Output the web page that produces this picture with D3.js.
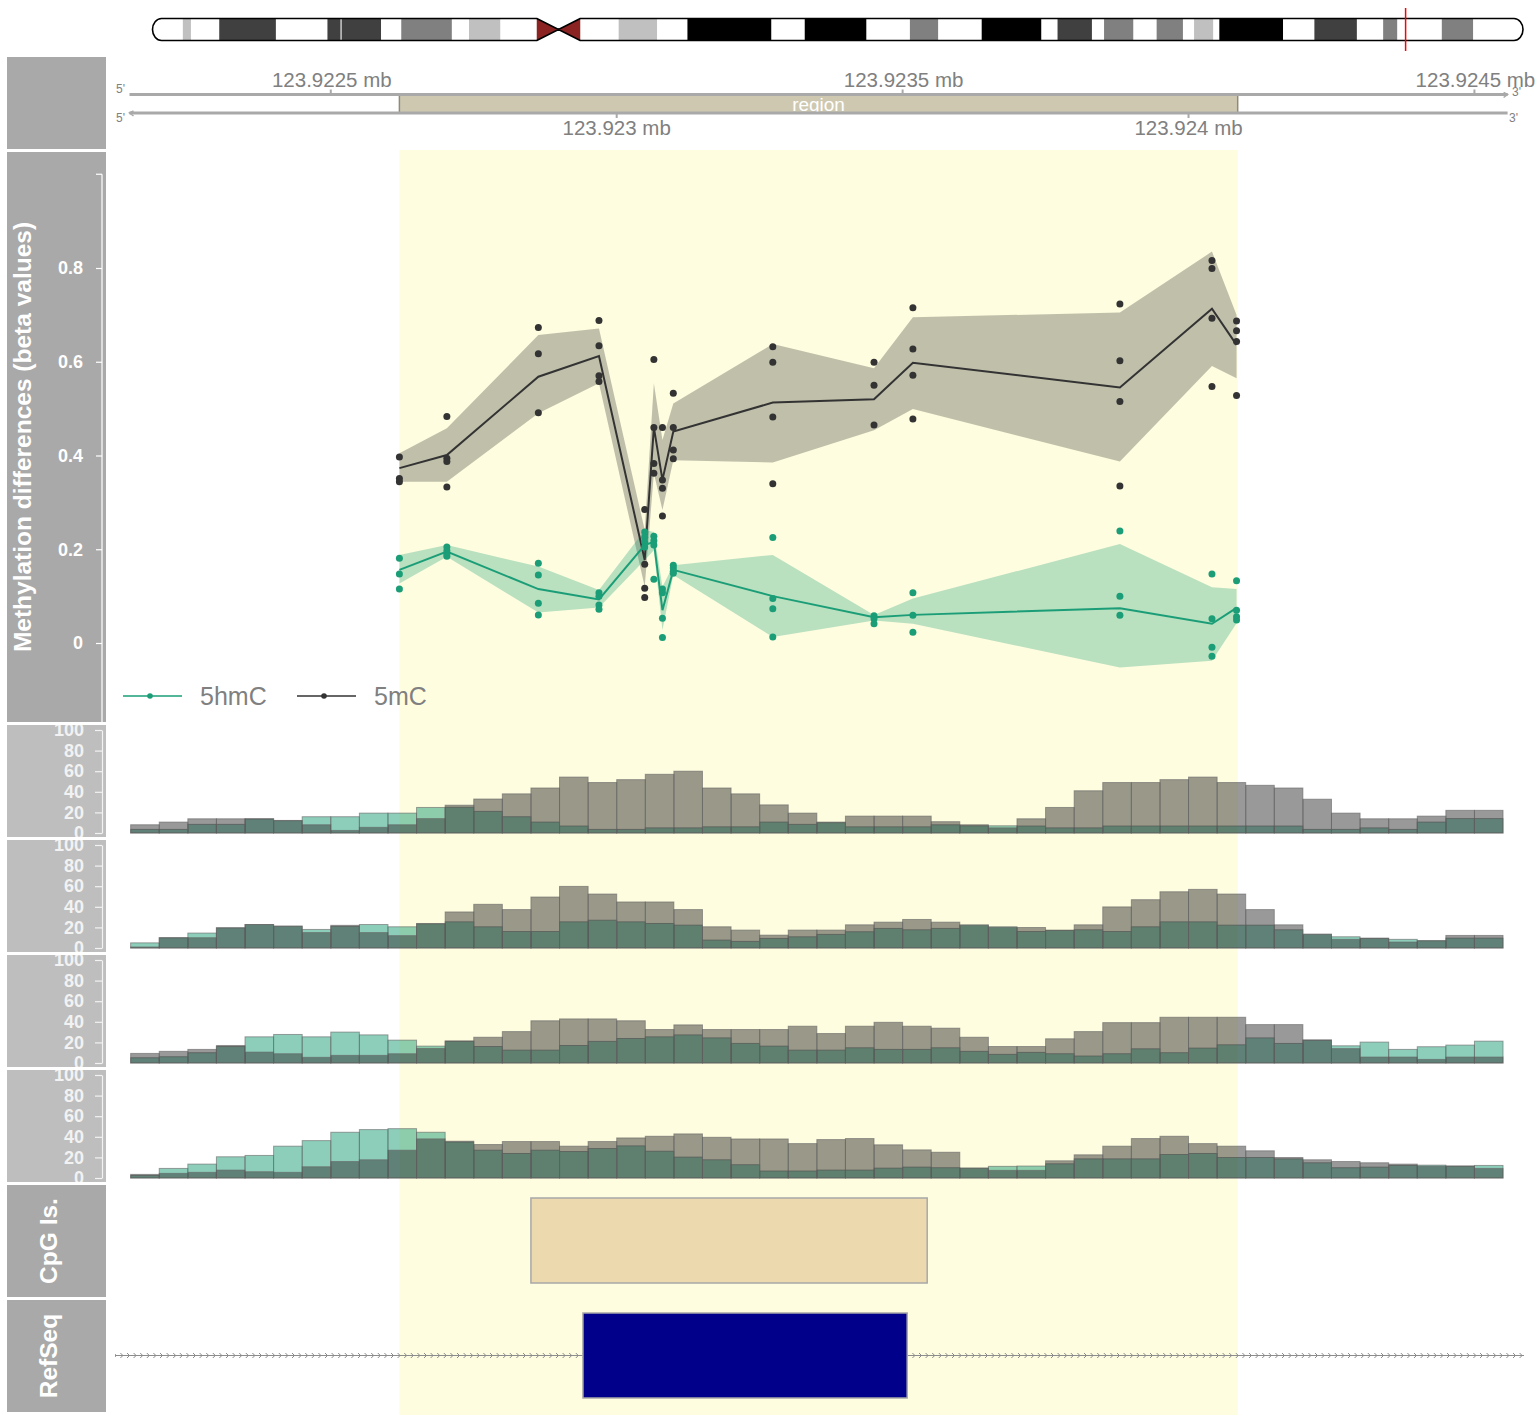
<!DOCTYPE html>
<html>
<head>
<meta charset="utf-8">
<script src="https://cdn.jsdelivr.net/npm/d3@7"></script>
<style>
  body { margin: 0; background: #ffffff; }
  svg { display: block; font-family: "Liberation Sans", Arial, Helvetica, sans-serif; }
</style>
</head>
<body>
<svg id="chart" width="1536" height="1419"></svg>
<script>
// ---------------- chromosome 10 ideogram (Mb) ----------------
const chromLength = 135.53;
const markerMb = 123.92;
const bandStart = [0, 3.0, 3.8, 6.6, 12.2, 17.3, 18.6, 18.7, 22.6, 24.6, 29.6, 31.3, 34.4, 38.0, 40.2, 42.3, 46.1, 49.9, 52.9, 61.2, 64.5, 70.6, 74.9, 77.7, 82.0, 87.9, 89.5, 92.9, 94.1, 97.0, 99.3, 101.9, 103.0, 104.9, 105.5, 111.8, 114.9, 119.1, 121.7, 123.1, 127.5, 130.6];
const bandEnd   = [3.0, 3.8, 6.6, 12.2, 17.3, 18.6, 18.7, 22.6, 24.6, 29.6, 31.3, 34.4, 38.0, 40.2, 42.3, 46.1, 49.9, 52.9, 61.2, 64.5, 70.6, 74.9, 77.7, 82.0, 87.9, 89.5, 92.9, 94.1, 97.0, 99.3, 101.9, 103.0, 104.9, 105.5, 111.8, 114.9, 119.1, 121.7, 123.1, 127.5, 130.6, 135.53];
const bandStain = ["gneg","gpos25","gneg","gpos75","gneg","gpos75","gneg","gpos75","gneg","gpos50","gneg","gpos25","gneg","acen","acen","gneg","gpos25","gneg","gpos100","gneg","gpos100","gneg","gpos50","gneg","gpos100","gneg","gpos75","gneg","gpos50","gneg","gpos50","gneg","gpos25","gneg","gpos100","gneg","gpos75","gneg","gpos50","gneg","gpos50","gneg"];
const stainColor = { gneg: "#ffffff", gpos25: "#c0c0c0", gpos50: "#808080", gpos75: "#404040", gpos100: "#000000", acen: "#8b2323" };

// ---------------- genomic window ----------------
const windowStart = 123922148, windowEnd = 123924558;
const ticksTop = [123922500, 123923500, 123924500];
const ticksBottom = [123923000, 123924000];
const regionStart = 123922620, regionEnd = 123924086;

// ---------------- methylation differences ----------------
const cpgPos = [123922620, 123922703, 123922863, 123922969, 123923049, 123923065, 123923080, 123923099, 123923273, 123923450, 123923518, 123923880, 123924041, 123924084];

const mCPoints = [
  [0.397, 0.351, 0.344], [0.483, 0.394, 0.387, 0.333], [0.673, 0.617, 0.491], [0.688, 0.634, 0.570, 0.558],
  [0.285, 0.168, 0.117, 0.097], [0.605, 0.460, 0.383, 0.362], [0.460, 0.348, 0.330, 0.271], [0.533, 0.460, 0.412, 0.393],
  [0.632, 0.599, 0.482, 0.340], [0.599, 0.550, 0.465], [0.715, 0.627, 0.571, 0.478], [0.723, 0.602, 0.515, 0.335],
  [0.816, 0.799, 0.693, 0.547], [0.687, 0.666, 0.643, 0.528]
];
const mCMean  = [0.373, 0.401, 0.568, 0.612, 0.177, 0.460, 0.348, 0.451, 0.513, 0.520, 0.598, 0.545, 0.713, 0.636];
const mCLower = [0.344, 0.344, 0.490, 0.554, 0.120, 0.362, 0.284, 0.390, 0.385, 0.454, 0.499, 0.387, 0.591, 0.565];
const mCUpper = [0.405, 0.458, 0.657, 0.671, 0.241, 0.554, 0.433, 0.511, 0.638, 0.586, 0.695, 0.705, 0.835, 0.700];

const hmCPoints = [
  [0.181, 0.147, 0.115], [0.205, 0.197, 0.190, 0.185], [0.170, 0.145, 0.085, 0.060], [0.107, 0.100, 0.081, 0.072],
  [0.237, 0.225, 0.215, 0.205], [0.228, 0.218, 0.209, 0.136], [0.115, 0.107, 0.053, 0.012], [0.166, 0.160, 0.153, 0.149],
  [0.225, 0.095, 0.073, 0.013], [0.058, 0.052, 0.041], [0.107, 0.059, 0.023], [0.239, 0.100, 0.059],
  [0.147, 0.052, -0.009, -0.028], [0.133, 0.070, 0.056, 0.049]
];
const hmCMean  = [0.156, 0.195, 0.115, 0.093, 0.209, 0.216, 0.070, 0.156, 0.100, 0.055, 0.060, 0.074, 0.041, 0.075];
const hmCLower = [0.127, 0.184, 0.065, 0.076, 0.177, 0.198, 0.028, 0.145, 0.013, 0.048, 0.041, -0.052, -0.038, 0.042];
const hmCUpper = [0.188, 0.209, 0.163, 0.113, 0.241, 0.237, 0.120, 0.166, 0.188, 0.060, 0.095, 0.211, 0.119, 0.115];

const methTicks = [0, 0.2, 0.4, 0.6, 0.8];

// ---------------- binned coverage tracks (50 bp bins) ----------------
const binStart = 123922150, binWidth = 50;
const histTicks = [0, 20, 40, 60, 80, 100];

const track1Gray  = [8, 10.6, 13.8, 13.8, 14, 12.2, 8, 2.5, 5.5, 8, 14, 27, 33, 38, 43.7, 54.3, 49, 51.8, 57, 60, 43.7, 38, 27.3, 19.3, 10.6, 16.4, 16.4, 16.4, 11, 8, 5, 13.8, 24.8, 41, 49, 49, 51.8, 54.3, 49, 46.3, 43.7, 32.8, 19.3, 13.8, 13.8, 16.4, 22, 22];
const track1Green = [3.5, 3.5, 8.4, 8.4, 13.5, 12, 15.8, 15.8, 19.3, 19.3, 24.8, 25, 21, 15.8, 10.6, 6.8, 3.5, 3.5, 5, 5, 6, 6, 10.6, 8.4, 10, 6, 6, 6, 8, 7, 7, 6.8, 5, 5, 6.8, 6.8, 6.8, 6.8, 6.8, 6.8, 6.8, 3.5, 3.5, 5, 3.5, 10.6, 14, 14];

const track2Gray  = [1, 10, 10, 19.6, 22.8, 21.2, 15, 22, 15, 12, 23.8, 35, 42.4, 37.3, 49.5, 59.8, 52.4, 44.7, 44.7, 37.3, 20.6, 17.4, 12.5, 17.4, 17.4, 22.5, 25.1, 27.7, 25.1, 22, 20, 19.9, 17.4, 22.5, 39.9, 46.9, 54.6, 56.9, 52.4, 37.3, 22.5, 13.2, 8.4, 9.6, 5.8, 7, 12.2, 12.2];
const track2Green = [5, 10, 14.5, 19.6, 22.8, 21.2, 18, 21, 22.8, 20.6, 23.5, 25.4, 20.6, 16, 16, 25.4, 27, 25.4, 23.8, 22.2, 7.7, 6.4, 9.3, 10.9, 13.2, 15.8, 19, 17.7, 19, 22.5, 20.6, 16, 17, 17.7, 16, 20.6, 25.4, 25.4, 22.2, 22.2, 17.7, 13.5, 10.9, 9.3, 8.4, 7.2, 9.6, 9.6];

const track3Gray  = [9.3, 11.3, 13.2, 17, 10.6, 9, 5.5, 7.4, 7.4, 9, 14.1, 21.5, 25, 30.5, 41, 42.8, 42.8, 41, 32.5, 37, 32.5, 32.5, 32.5, 35.7, 28.6, 35.7, 39.5, 35.7, 33.8, 25, 16, 16, 23.5, 30.5, 39.2, 39.2, 44.4, 44.4, 44.4, 37.3, 37.3, 22.5, 14, 5.8, 5.8, 3.5, 5.8, 5.8];
const track3Green = [5.1, 6.1, 10, 16, 25.4, 27.7, 25.4, 30, 27.3, 22.2, 16.4, 21, 16, 12.5, 12.5, 17, 21, 23.8, 25.4, 27.3, 24.4, 19, 16.4, 12.5, 12.5, 14.8, 13.2, 13.2, 14.8, 11.3, 8.4, 10.3, 9, 6.8, 9, 13.8, 10, 14.5, 17.7, 24.4, 19, 22, 16.7, 20.3, 13.2, 15.8, 17.4, 21.2];

const track4Gray  = [3.5, 4.5, 5.5, 7.7, 6.1, 5.5, 10.9, 16, 17.7, 27, 38, 35.7, 32.5, 35.4, 35.4, 30.9, 35.4, 38.9, 40.5, 42.8, 39.5, 37.9, 37.9, 33.4, 37.3, 38.3, 32.2, 27.3, 25, 9.6, 7.4, 7.4, 16.7, 22.5, 30.9, 38.3, 40.5, 33.4, 30.9, 26.4, 19.9, 17.7, 16, 14.8, 13.5, 11.5, 11.6, 9.3];
const track4Green = [2.5, 9.3, 13.5, 20.6, 21.9, 30.9, 36.3, 44.4, 47, 47.9, 44.4, 35, 27, 23.8, 27, 25.7, 28.6, 31.2, 26, 20.3, 17.7, 12.9, 6.8, 6.8, 7.7, 7.7, 9.6, 10.6, 10, 9.6, 11.3, 11.6, 13.8, 18.6, 18.6, 18.6, 22.8, 23.8, 19.9, 19.9, 18.6, 14.8, 10, 10.6, 12.2, 12.5, 11.6, 12.2];

// ---------------- annotation ----------------
const cpgIsland = [123922850, 123923543];
const refseqExon = [123922941, 123923508];
const refseqTranscript = [123921800, 123925200];

// ---------------- layout ----------------
const svg = d3.select("#chart");
const font = "'Liberation Sans', Arial, Helvetica, sans-serif";
const panelLeft = 7, panelWidth = 99;
const darkPanel = "#a9a9a9", lightPanel = "#bebebe";
const col5mC = "#333333", col5hmC = "#1b9e77";

const x = d3.scaleLinear().domain([windowStart, windowEnd]).range([129.5, 1507.6]);

const tracks = {
  axis:  { top: 57,   h: 92 },
  meth:  { top: 152,  h: 570 },
  h1:    { top: 725,  h: 112 },
  h2:    { top: 840,  h: 112 },
  h3:    { top: 955,  h: 112 },
  h4:    { top: 1070, h: 112 },
  cpg:   { top: 1185, h: 112 },
  ref:   { top: 1300, h: 112 }
};

const defs = svg.append("defs");

// title panels
const panelFill = { axis: darkPanel, meth: darkPanel, h1: lightPanel, h2: lightPanel, h3: lightPanel, h4: lightPanel, cpg: darkPanel, ref: darkPanel };
Object.entries(tracks).forEach(([k, t]) => {
  svg.append("rect").attr("x", panelLeft).attr("y", t.top).attr("width", panelWidth).attr("height", t.h).attr("fill", panelFill[k]);
  defs.append("clipPath").attr("id", "clip-" + k)
    .append("rect").attr("x", panelLeft).attr("y", t.top).attr("width", panelWidth).attr("height", t.h);
});

// highlighted region
svg.append("rect")
  .attr("x", x(regionStart)).attr("y", 150)
  .attr("width", x(regionEnd) - x(regionStart)).attr("height", 1265)
  .attr("fill", "#fefddf");

// ---------------- ideogram ----------------
const ix = d3.scaleLinear().domain([0, chromLength]).range([152.5, 1523]);
const iy0 = 18.5, iy1 = 40.5, iym = (iy0 + iy1) / 2, rEnd = 9;
const cenL = ix(bandStart[bandStain.indexOf("acen")]);
const cenR = ix(bandEnd[bandStain.lastIndexOf("acen")]);
const cenM = (cenL + cenR) / 2;
const x0 = ix(0), x1 = ix(chromLength);
const hh = (iy1 - iy0) / 2;
const pArm = `M${cenL},${iy0} L${x0 + rEnd},${iy0} A${rEnd},${hh} 0 0 0 ${x0 + rEnd},${iy1} L${cenL},${iy1} Z`;
const qArm = `M${cenR},${iy0} L${x1 - rEnd},${iy0} A${rEnd},${hh} 0 0 1 ${x1 - rEnd},${iy1} L${cenR},${iy1} Z`;
const clipIdeo = defs.append("clipPath").attr("id", "clip-ideo");
clipIdeo.append("path").attr("d", pArm);
clipIdeo.append("path").attr("d", qArm);

const ideo = svg.append("g");
const bandIdx = d3.range(bandStart.length).filter(i => bandStain[i] !== "acen");
ideo.append("g").attr("clip-path", "url(#clip-ideo)")
  .selectAll("rect").data(bandIdx).join("rect")
  .attr("x", i => ix(bandStart[i])).attr("y", iy0)
  .attr("width", i => ix(bandEnd[i]) - ix(bandStart[i]) + 0.3)
  .attr("height", iy1 - iy0)
  .attr("fill", i => stainColor[bandStain[i]]);
// centromere
ideo.append("path").attr("d", `M${cenL},${iy0} L${cenM},${iym} L${cenL},${iy1} Z`).attr("fill", stainColor.acen);
ideo.append("path").attr("d", `M${cenR},${iy0} L${cenM},${iym} L${cenR},${iy1} Z`).attr("fill", stainColor.acen);
// outline
ideo.append("path")
  .attr("d", `M${cenL},${iy0} L${x0 + rEnd},${iy0} A${rEnd},${hh} 0 0 0 ${x0 + rEnd},${iy1} L${cenL},${iy1} L${cenR},${iy0} L${x1 - rEnd},${iy0} A${rEnd},${hh} 0 0 1 ${x1 - rEnd},${iy1} L${cenR},${iy1} Z`)
  .attr("fill", "none").attr("stroke", "#000").attr("stroke-width", 1.6).attr("stroke-linejoin", "round");
ideo.append("line").attr("x1", ix(markerMb)).attr("x2", ix(markerMb)).attr("y1", 8).attr("y2", 51)
  .attr("stroke", "#ff0000").attr("stroke-width", 1.5);

// ---------------- genome axis ----------------
const axisG = svg.append("g");
const axCol = "#a9a9a9", axText = "#808080";
const yTopLine = 94.5, yBotLine = 113;
axisG.append("rect").attr("x", x(regionStart)).attr("y", yTopLine + 1)
  .attr("width", x(regionEnd) - x(regionStart)).attr("height", yBotLine - yTopLine - 2)
  .attr("fill", "#cec8b1");
[regionStart, regionEnd].forEach(p => axisG.append("line")
  .attr("x1", x(p)).attr("x2", x(p)).attr("y1", yTopLine + 1).attr("y2", yBotLine - 1)
  .attr("stroke", "#8f8b7b").attr("stroke-width", 1.5));
axisG.append("text").attr("x", (x(regionStart) + x(regionEnd)) / 2).attr("y", 111)
  .attr("text-anchor", "middle").attr("font-size", 19).attr("fill", "#ffffff").text("region");
[yTopLine, yBotLine].forEach(yy => axisG.append("line")
  .attr("x1", x(windowStart)).attr("x2", x(windowEnd)).attr("y1", yy).attr("y2", yy)
  .attr("stroke", axCol).attr("stroke-width", 3));
// strand end hooks
axisG.append("path").attr("d", `M${x(windowEnd) - 4},${yTopLine - 2} L${x(windowEnd)},${yTopLine} L${x(windowEnd) - 4},${yTopLine + 3}`)
  .attr("fill", "none").attr("stroke", axCol).attr("stroke-width", 1.5);
axisG.append("path").attr("d", `M${x(windowStart) + 4},${yBotLine - 2} L${x(windowStart)},${yBotLine} L${x(windowStart) + 4},${yBotLine + 3}`)
  .attr("fill", "none").attr("stroke", axCol).attr("stroke-width", 1.5);
const strandLbl = [["5'", 116, 93], ["5'", 116, 122], ["3'", 1512, 96], ["3'", 1509, 122]];
strandLbl.forEach(([t, xx, yy]) => axisG.append("text").attr("x", xx).attr("y", yy)
  .attr("font-size", 12).attr("fill", axText).text(t));
const fmtMb = d => d3.format(".4~f")(d / 1e6) + " mb";
axisG.selectAll(".tt").data(ticksTop).join("line")
  .attr("x1", d => x(d)).attr("x2", d => x(d)).attr("y1", yTopLine).attr("y2", yTopLine - 5)
  .attr("stroke", axCol).attr("stroke-width", 2);
axisG.selectAll(".tl").data(ticksTop).join("text")
  .attr("x", d => x(d) + 1).attr("y", 87).attr("text-anchor", "middle")
  .attr("font-size", 20.5).attr("fill", axText).text(fmtMb);
axisG.selectAll(".bt").data(ticksBottom).join("line")
  .attr("x1", d => x(d)).attr("x2", d => x(d)).attr("y1", yBotLine).attr("y2", yBotLine + 5)
  .attr("stroke", axCol).attr("stroke-width", 2);
axisG.selectAll(".bl").data(ticksBottom).join("text")
  .attr("x", d => x(d)).attr("y", 134.5).attr("text-anchor", "middle")
  .attr("font-size", 20.5).attr("fill", axText).text(fmtMb);

// ---------------- methylation track ----------------
const yM = d3.scaleLinear().domain([0, 0.8]).range([643, 268]);
const mG = svg.append("g");
const areaGen = (lo, hi) => d3.area().x((d, i) => x(cpgPos[i])).y0((d, i) => yM(lo[i])).y1((d, i) => yM(hi[i]));
const lineGen = d3.line().x((d, i) => x(cpgPos[i])).y(d => yM(d));

mG.append("path").datum(cpgPos).attr("d", areaGen(mCLower, mCUpper)).attr("fill", col5mC).attr("fill-opacity", 0.3);
mG.append("path").datum(cpgPos).attr("d", areaGen(hmCLower, hmCUpper)).attr("fill", col5hmC).attr("fill-opacity", 0.3);
mG.append("path").datum(mCMean).attr("d", lineGen).attr("fill", "none").attr("stroke", col5mC).attr("stroke-width", 2);
mG.append("path").datum(hmCMean).attr("d", lineGen).attr("fill", "none").attr("stroke", col5hmC).attr("stroke-width", 2);

const flatPts = (pts, key) => pts.flatMap((arr, i) => arr.map(v => ({ pos: cpgPos[i], v, key })));
mG.selectAll(".p5mc").data(flatPts(mCPoints, "mC")).join("circle")
  .attr("cx", d => x(d.pos)).attr("cy", d => yM(d.v)).attr("r", 3.5).attr("fill", col5mC);
mG.selectAll(".p5hmc").data(flatPts(hmCPoints, "hmC")).join("circle")
  .attr("cx", d => x(d.pos)).attr("cy", d => yM(d.v)).attr("r", 3.5).attr("fill", col5hmC);

// legend
const legend = [{ label: "5hmC", col: col5hmC, x: 123 }, { label: "5mC", col: col5mC, x: 297 }];
legend.forEach(l => {
  mG.append("line").attr("x1", l.x).attr("x2", l.x + 59).attr("y1", 696).attr("y2", 696).attr("stroke", l.col).attr("stroke-width", 1.5);
  mG.append("circle").attr("cx", l.x + 27).attr("cy", 696).attr("r", 2.8).attr("fill", l.col);
  mG.append("text").attr("x", l.x + 77).attr("y", 705).attr("font-size", 25).attr("fill", axText).text(l.label);
});

// y axis for methylation
const titleText = "#ffffff";
const mAxis = svg.append("g").attr("clip-path", "url(#clip-meth)");
mAxis.append("line").attr("x1", 102).attr("x2", 102).attr("y1", yM(1.0)).attr("y2", 722).attr("stroke", titleText).attr("stroke-width", 1.2);
mAxis.append("line").attr("x1", 96).attr("x2", 102).attr("y1", yM(1.0)).attr("y2", yM(1.0)).attr("stroke", titleText).attr("stroke-width", 1.2);
mAxis.append("g").attr("transform", "translate(102,0)")
  .call(d3.axisLeft(yM).tickValues(methTicks).tickSize(6).tickSizeOuter(0).tickFormat(d => d === 0 ? "0" : d3.format(".1f")(d)))
  .call(g => g.select(".domain").remove())
  .call(g => g.selectAll("line").attr("stroke", titleText).attr("stroke-width", 1.2))
  .call(g => g.selectAll("text").attr("fill", titleText).attr("font-size", 18).attr("font-weight", "bold").attr("font-family", font).attr("x", -19));
svg.append("text").attr("transform", `translate(31,${152 + 570 / 2}) rotate(-90)`)
  .attr("text-anchor", "middle").attr("font-size", 24.5).attr("font-weight", "bold").attr("fill", titleText)
  .text("Methylation differences (beta values)");

// ---------------- histogram tracks ----------------
const histData = [
  { key: "h1", gray: track1Gray, green: track1Green },
  { key: "h2", gray: track2Gray, green: track2Green },
  { key: "h3", gray: track3Gray, green: track3Green },
  { key: "h4", gray: track4Gray, green: track4Green }
];
histData.forEach(hd => {
  const t = tracks[hd.key];
  const hy = d3.scaleLinear().domain([0, 100]).range([t.top + 108, t.top + 5]);
  const g = svg.append("g");
  const bar = (vals, fill) => g.append("g").selectAll("rect").data(vals).join("rect")
    .attr("x", (d, i) => x(binStart + i * binWidth))
    .attr("width", (d, i) => x(binStart + (i + 1) * binWidth) - x(binStart + i * binWidth))
    .attr("y", d => hy(d)).attr("height", d => hy(0) - hy(d))
    .attr("fill", fill).attr("fill-opacity", 0.5)
    .attr("stroke", "#666666").attr("stroke-opacity", 0.6).attr("stroke-width", 1);
  bar(hd.green, col5hmC);
  bar(hd.gray, col5mC);
  const ax = svg.append("g").attr("clip-path", `url(#clip-${hd.key})`);
  ax.append("g").attr("transform", "translate(102,0)")
    .call(d3.axisLeft(hy).tickValues(histTicks).tickSize(7).tickSizeOuter(0))
    .call(g2 => g2.select(".domain").attr("stroke", "#f2f2f2").attr("stroke-width", 1.2))
    .call(g2 => g2.selectAll("line").attr("stroke", "#f2f2f2").attr("stroke-width", 1.2))
    .call(g2 => g2.selectAll("text").attr("fill", "#f2f2f2").attr("font-size", 18).attr("font-weight", "bold").attr("font-family", font).attr("x", -18));
});

// ---------------- CpG island track ----------------
svg.append("rect").attr("x", x(cpgIsland[0])).attr("y", 1198)
  .attr("width", x(cpgIsland[1]) - x(cpgIsland[0])).attr("height", 85)
  .attr("fill", "#edd9ae").attr("stroke", "#a8a8a8").attr("stroke-width", 1.5);
svg.append("text").attr("transform", `translate(57,${1185 + 56}) rotate(-90)`)
  .attr("text-anchor", "middle").attr("font-size", 24.5).attr("font-weight", "bold").attr("fill", titleText).text("CpG Is.");

// ---------------- RefSeq track ----------------
defs.append("clipPath").attr("id", "clip-refline").append("rect").attr("x", 115).attr("y", 1330).attr("width", 1409).attr("height", 50);
const refG = svg.append("g").attr("clip-path", "url(#clip-refline)");
const yRef = 1355.5;
refG.append("line").attr("x1", x(refseqTranscript[0])).attr("x2", x(refseqTranscript[1])).attr("y1", yRef).attr("y2", yRef)
  .attr("stroke", "#8c8c8c").attr("stroke-width", 1.2);
const chevrons = d3.range(x(refseqTranscript[0]), x(refseqTranscript[1]), 6.6);
refG.selectAll(".chev").data(chevrons).join("path")
  .attr("d", d => `M${d - 1.5},${yRef - 2.5} L${d + 1},${yRef} L${d - 1.5},${yRef + 2.5}`)
  .attr("fill", "none").attr("stroke", "#8c8c8c").attr("stroke-width", 1);
svg.append("rect").attr("x", x(refseqExon[0])).attr("y", 1313)
  .attr("width", x(refseqExon[1]) - x(refseqExon[0])).attr("height", 85)
  .attr("fill", "#00008b").attr("stroke", "#a8a8a8").attr("stroke-width", 1.5);
svg.append("text").attr("transform", `translate(57,${1300 + 56}) rotate(-90)`)
  .attr("text-anchor", "middle").attr("font-size", 24.5).attr("font-weight", "bold").attr("fill", titleText).text("RefSeq");
</script>
</body>
</html>
